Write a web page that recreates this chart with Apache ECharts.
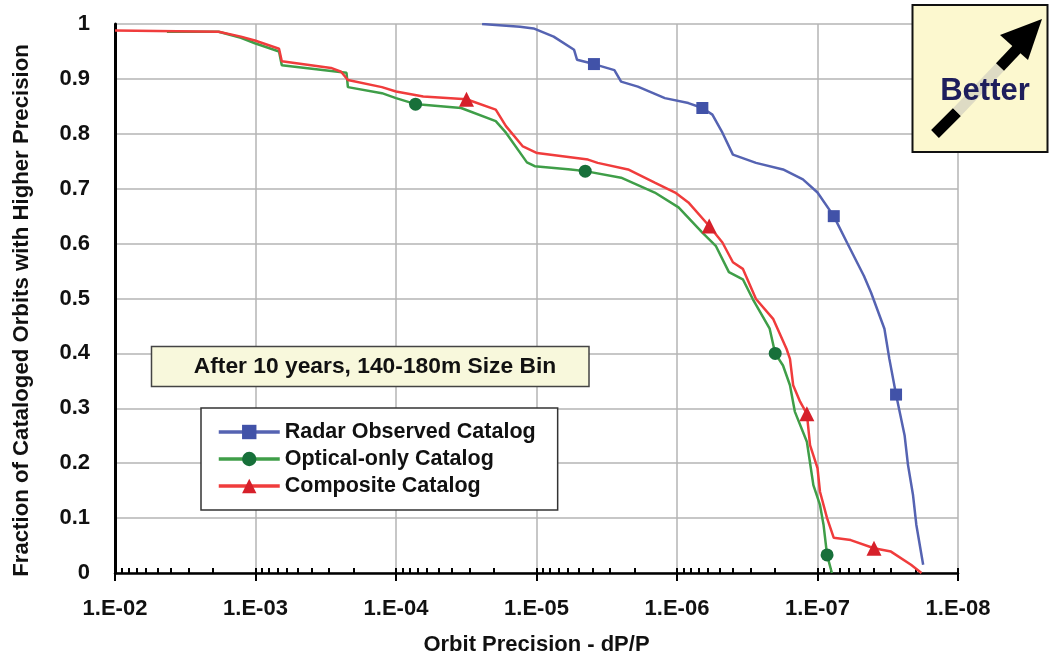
<!DOCTYPE html>
<html><head><meta charset="utf-8">
<script src="https://cdn.jsdelivr.net/npm/echarts@6/dist/echarts.min.js"></script>
<style>html,body{margin:0;padding:0;background:#fff}#c{width:1049px;height:661px}</style>
</head><body><div id="c"></div>
<script>
// ---- data (x = orbit precision dP/P, y = fraction) ----
const seriesNames = ['Radar Observed Catalog', 'Optical-only Catalog', 'Composite Catalog'];

const radarX = [2.44e-5, 1.31e-5, 1.05e-5, 7.55e-6, 5.4e-6, 5.15e-6, 3.9e-6, 2.79e-6, 2.5e-6, 1.9e-6, 1.22e-6, 8.3e-7, 6.6e-7, 5.6e-7, 4.75e-7, 4.0e-7, 2.74e-7, 1.76e-7, 1.27e-7, 1.0e-7, 7.66e-8, 6.17e-8, 4.67e-8, 4.16e-8, 3.34e-8, 3.08e-8, 2.76e-8, 2.4e-8, 2.27e-8, 2.09e-8, 1.98e-8, 1.77e-8];
const radarY = [1.0, 0.995, 0.992, 0.977, 0.953, 0.935, 0.927, 0.916, 0.895, 0.886, 0.865, 0.856, 0.847, 0.835, 0.802, 0.762, 0.747, 0.735, 0.717, 0.693, 0.650, 0.602, 0.541, 0.511, 0.445, 0.390, 0.325, 0.251, 0.197, 0.142, 0.088, 0.015];
const radarMarks = [6, 12, 20, 26];

const opticalX = [4.27e-3, 1.83e-3, 1.27e-3, 1.01e-3, 6.8e-4, 6.5e-4, 2.6e-4, 2.25e-4, 2.2e-4, 1.26e-4, 1.0e-4, 7.26e-5, 6.4e-5, 3.44e-5, 1.95e-5, 1.65e-5, 1.17e-5, 1.03e-5, 5.7e-6, 4.5e-6, 2.5e-6, 1.44e-6, 9.75e-7, 6.6e-7, 5.3e-7, 4.27e-7, 3.4e-7, 2.89e-7, 2.19e-7, 2.0e-7, 1.76e-7, 1.57e-7, 1.45e-7, 1.19e-7, 1.07e-7, 9.6e-8, 9.06e-8, 8.55e-8, 7.9e-8];
const opticalY = [0.986, 0.986, 0.975, 0.965, 0.950, 0.925, 0.913, 0.911, 0.885, 0.874, 0.865, 0.854, 0.853, 0.847, 0.823, 0.802, 0.748, 0.741, 0.735, 0.732, 0.720, 0.693, 0.666, 0.620, 0.596, 0.548, 0.535, 0.499, 0.445, 0.400, 0.378, 0.342, 0.294, 0.239, 0.160, 0.124, 0.088, 0.033, 0.0];
const opticalMarks = [11, 19, 29, 37];

const compositeX = [1.0e-2, 1.83e-3, 1.27e-3, 1.01e-3, 6.8e-4, 6.5e-4, 2.9e-4, 2.46e-4, 2.2e-4, 1.26e-4, 1.0e-4, 6.4e-5, 3.15e-5, 1.95e-5, 1.65e-5, 1.25e-5, 9.9e-6, 4.3e-6, 3.67e-6, 2.23e-6, 1.44e-6, 1.03e-6, 8.3e-7, 5.9e-7, 4.75e-7, 4.0e-7, 3.4e-7, 2.74e-7, 2.07e-7, 1.66e-7, 1.57e-7, 1.49e-7, 1.33e-7, 1.19e-7, 1.13e-7, 1.0e-7, 9.6e-8, 8.55e-8, 7.66e-8, 5.8e-8, 3.96e-8, 3.0e-8, 2.16e-8, 1.82e-8];
const compositeY = [0.988, 0.986, 0.977, 0.970, 0.955, 0.932, 0.920, 0.913, 0.898, 0.885, 0.877, 0.868, 0.863, 0.844, 0.814, 0.777, 0.765, 0.753, 0.747, 0.735, 0.711, 0.693, 0.675, 0.632, 0.602, 0.566, 0.554, 0.499, 0.463, 0.408, 0.390, 0.342, 0.312, 0.290, 0.233, 0.191, 0.148, 0.100, 0.064, 0.060, 0.045, 0.039, 0.015, 0.0];
const compositeMarks = [12, 23, 33, 40];

const xTickLabels = ['1.E-02', '1.E-03', '1.E-04', '1.E-05', '1.E-06', '1.E-07', '1.E-08'];
const xMinorMultipliers = [2, 3, 4, 5, 6, 7, 8, 9];
const xDecades = [1e-8, 1e-7, 1e-6, 1e-5, 1e-4, 1e-3];

const boxText = 'After 10 years, 140-180m Size Bin';
const betterText = 'Better';

// ---- build ----
function build(xs, ys, marks) {
  return xs.map((x, i) => ({ value: [x, ys[i]], symbol: marks.indexOf(i) >= 0 ? undefined : 'none' }));
}
const minorTicks = [];
xDecades.forEach(d => xMinorMultipliers.forEach(m => minorTicks.push(+(d * m).toPrecision(3))));
xDecades.concat([1e-2]).forEach(d => minorTicks.push(d));

const FONT = '"Liberation Sans", Arial, sans-serif';
const chart = echarts.init(document.getElementById('c'), null, { renderer: 'canvas' });

const axisCommon = {
  type: 'log', logBase: 10, min: 1e-8, max: 1e-2, inverse: true
};

chart.setOption({
  animation: false,
  backgroundColor: '#fff',
  grid: { left: 115, right: 91, top: 24, bottom: 86, containLabel: false },
  xAxis: [
    Object.assign({}, axisCommon, {
      name: 'Orbit Precision - dP/P',
      nameLocation: 'middle', nameGap: 61,
      nameTextStyle: { fontFamily: FONT, fontWeight: 'bold', fontSize: 22, color: '#111' },
      axisLine: { show: true, lineStyle: { color: '#000', width: 2.5 } },
      axisTick: { show: true, length: 8, lineStyle: { color: '#000', width: 2 } },
      axisLabel: {
        margin: 25, fontFamily: FONT, fontWeight: 'bold', fontSize: 22, color: '#111',
        formatter: v => xTickLabels[Math.round(-Math.log10(v)) - 2]
      },
      splitLine: { show: true, lineStyle: { color: '#b4b4b4', width: 1.5 } },
      minorTick: { show: false }
    }),
    Object.assign({}, axisCommon, {
      position: 'bottom',
      axisLine: { show: false },
      axisLabel: { show: false },
      splitLine: { show: false },
      axisTick: { show: true, inside: true, length: 5, customValues: minorTicks, lineStyle: { color: '#000', width: 2 } }
    })
  ],
  yAxis: {
    type: 'value', min: 0, max: 1, interval: 0.1,
    name: 'Fraction of Cataloged Orbits with Higher Precision',
    nameLocation: 'middle', nameGap: 82,
    nameTextStyle: { fontFamily: FONT, fontWeight: 'bold', fontSize: 22.2, color: '#111', padding: [0, 24, 0, 0] },
    axisLine: { show: true, lineStyle: { color: '#000', width: 3 } },
    axisTick: { show: false },
    axisLabel: { margin: 25, fontFamily: FONT, fontWeight: 'bold', fontSize: 22, color: '#111', padding: [3, 0, 0, 0] },
    splitLine: { show: true, lineStyle: { color: '#b4b4b4', width: 1.5 } }
  },
  legend: {
    orient: 'vertical', left: 201, top: 408,
    data: seriesNames,
    backgroundColor: '#fff', borderColor: '#333', borderWidth: 1.5, borderRadius: 0,
    padding: [12, 22, 12, 16],
    itemWidth: 61, itemHeight: 18, itemGap: 3,
    lineStyle: { width: 3.5 },
    textStyle: { fontFamily: FONT, fontWeight: 'bold', fontSize: 21.5, color: '#111', lineHeight: 24 }
  },
  series: [
    {
      name: seriesNames[0], type: 'line', xAxisIndex: 0,
      data: build(radarX, radarY, radarMarks),
      symbol: 'rect', symbolSize: 12, showSymbol: true, showAllSymbol: true,
      lineStyle: { color: '#5563b2', width: 2.5 }, itemStyle: { color: '#4152a8' }, z: 3
    },
    {
      name: seriesNames[1], type: 'line', xAxisIndex: 0,
      data: build(opticalX, opticalY, opticalMarks),
      symbol: 'circle', symbolSize: 13, showSymbol: true, showAllSymbol: true,
      lineStyle: { color: '#3f9e48', width: 2.5 }, itemStyle: { color: '#17703a' }, z: 4
    },
    {
      name: seriesNames[2], type: 'line', xAxisIndex: 0,
      data: build(compositeX, compositeY, compositeMarks),
      symbol: 'triangle', symbolSize: 15, showSymbol: true, showAllSymbol: true,
      lineStyle: { color: '#f03c3c', width: 2.5 }, itemStyle: { color: '#d6202a' }, z: 5
    }
  ],
  graphic: [
    { type: 'rect', shape: { x: 151.5, y: 346.5, width: 437.5, height: 40 },
      style: { fill: '#f8f8dc', stroke: '#444', lineWidth: 1.5 }, z: 10 },
    { type: 'text', x: 375, y: 367, z: 11,
      style: { text: boxText, font: 'bold 22.8px ' + FONT, fill: '#111', align: 'center', verticalAlign: 'middle' } },
    { type: 'rect', shape: { x: 912.5, y: 5, width: 135, height: 147 },
      style: { fill: '#fcf8cf', stroke: '#111', lineWidth: 2 }, z: 10 },
    { type: 'line', shape: { x1: 935, y1: 134, x2: 957, y2: 112 },
      style: { stroke: '#000', lineWidth: 11 }, z: 11 },
    { type: 'line', shape: { x1: 957, y1: 112, x2: 1001, y2: 66 },
      style: { stroke: '#dedbc4', lineWidth: 11 }, z: 11 },
    { type: 'line', shape: { x1: 1000, y1: 67, x2: 1017, y2: 49 },
      style: { stroke: '#000', lineWidth: 11 }, z: 11 },
    { type: 'polygon', shape: { points: [[1000, 35], [1042, 19], [1028, 60]] },
      style: { fill: '#000' }, z: 11 },
    { type: 'text', x: 985, y: 91, z: 12,
      style: { text: betterText, font: 'bold 31px ' + FONT, fill: '#1e1e5c', align: 'center', verticalAlign: 'middle' } }
  ]
});
</script></body></html>
